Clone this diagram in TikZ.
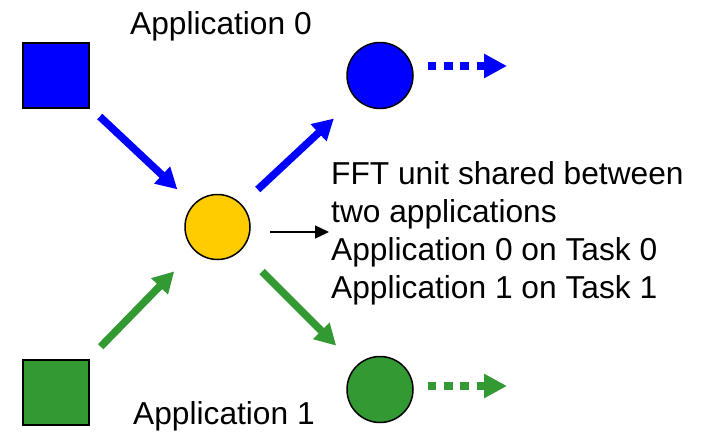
\documentclass[tikz,border=0pt]{standalone}
\usepackage{fontspec}
\setmainfont{Liberation Sans}
\usetikzlibrary{arrows.meta,calc}
\definecolor{appblue}{RGB}{0,0,255}
\definecolor{appgreen}{RGB}{51,153,51}
\definecolor{fftyellow}{RGB}{255,204,0}
\begin{document}
\begin{tikzpicture}[x=1pt,y=-1pt,
  labeltext/.style={font=\fontsize{31.7}{38}\selectfont, inner sep=0pt},
  source/.style={draw=black, line width=1.5pt, minimum width=66pt, minimum height=65pt, inner sep=0pt},
  unit/.style={circle, draw=black, line width=1.5pt, minimum size=65pt, inner sep=0pt},
  flow/.style={line width=7.5pt, -{Triangle[length=21pt,width=22pt]}},
  onward/.style={line width=8.5pt, dash pattern=on 8.7pt off 7.6pt, -{Triangle[length=23pt,width=23pt]}},
  pointer/.style={line width=1.5pt, -{Triangle[length=14pt,width=13pt]}}]
\useasboundingbox (0,0) rectangle (702,434);

% applications (sources)
\node[source, fill=appblue]  (src0) at (56,75.5)  {};
\node[source, fill=appgreen] (src1) at (56,392.5) {};

% shared FFT unit and the two outputs
\node[unit, fill=fftyellow] (fft)  at (217.5,227) {};
\node[unit, fill=appblue, minimum size=66pt]  (out0) at (380,75.5)  {};
\node[unit, fill=appgreen, minimum size=66pt] (out1) at (380,389.5) {};

% labels
\node[labeltext, anchor=base west] (lab0) at (130,34)  {Application 0};
\node[labeltext, anchor=base west] (lab1) at (133,424) {Application 1};
\node[labeltext, align=left, anchor=north west] (note) at (331,161)
  {FFT unit shared between\\two applications\\Application 0 on Task 0\\Application 1 on Task 1};

% data flow through the shared unit
\draw[flow, appblue,  shorten <=60pt, shorten >=55pt] (src0.center) -- (fft.center);
\draw[flow, appblue,  shorten <=55pt, shorten >=63pt] (fft.center) -- (out0.center);
\draw[flow, appgreen, shorten <=64pt, shorten >=62pt] (src1.center) -- (fft.center);
\draw[flow, appgreen, shorten <=63pt, shorten >=62pt] (fft.center) -- (out1.center);

% continuing outputs
\coordinate (end0) at (507,66);
\coordinate (end1) at (507,386);
\draw[onward, appblue]  ($(out0.east |- end0)+(14,0)$) -- (end0);
\draw[onward, appgreen] ($(out1.east |- end1)+(14,0)$) -- (end1);

% pointer from the unit to its description
\coordinate (ptr) at (329,232);
\draw[pointer, black] ($(fft.east |- ptr)+(19,0)$) -- (ptr);
\end{tikzpicture}
\end{document}
